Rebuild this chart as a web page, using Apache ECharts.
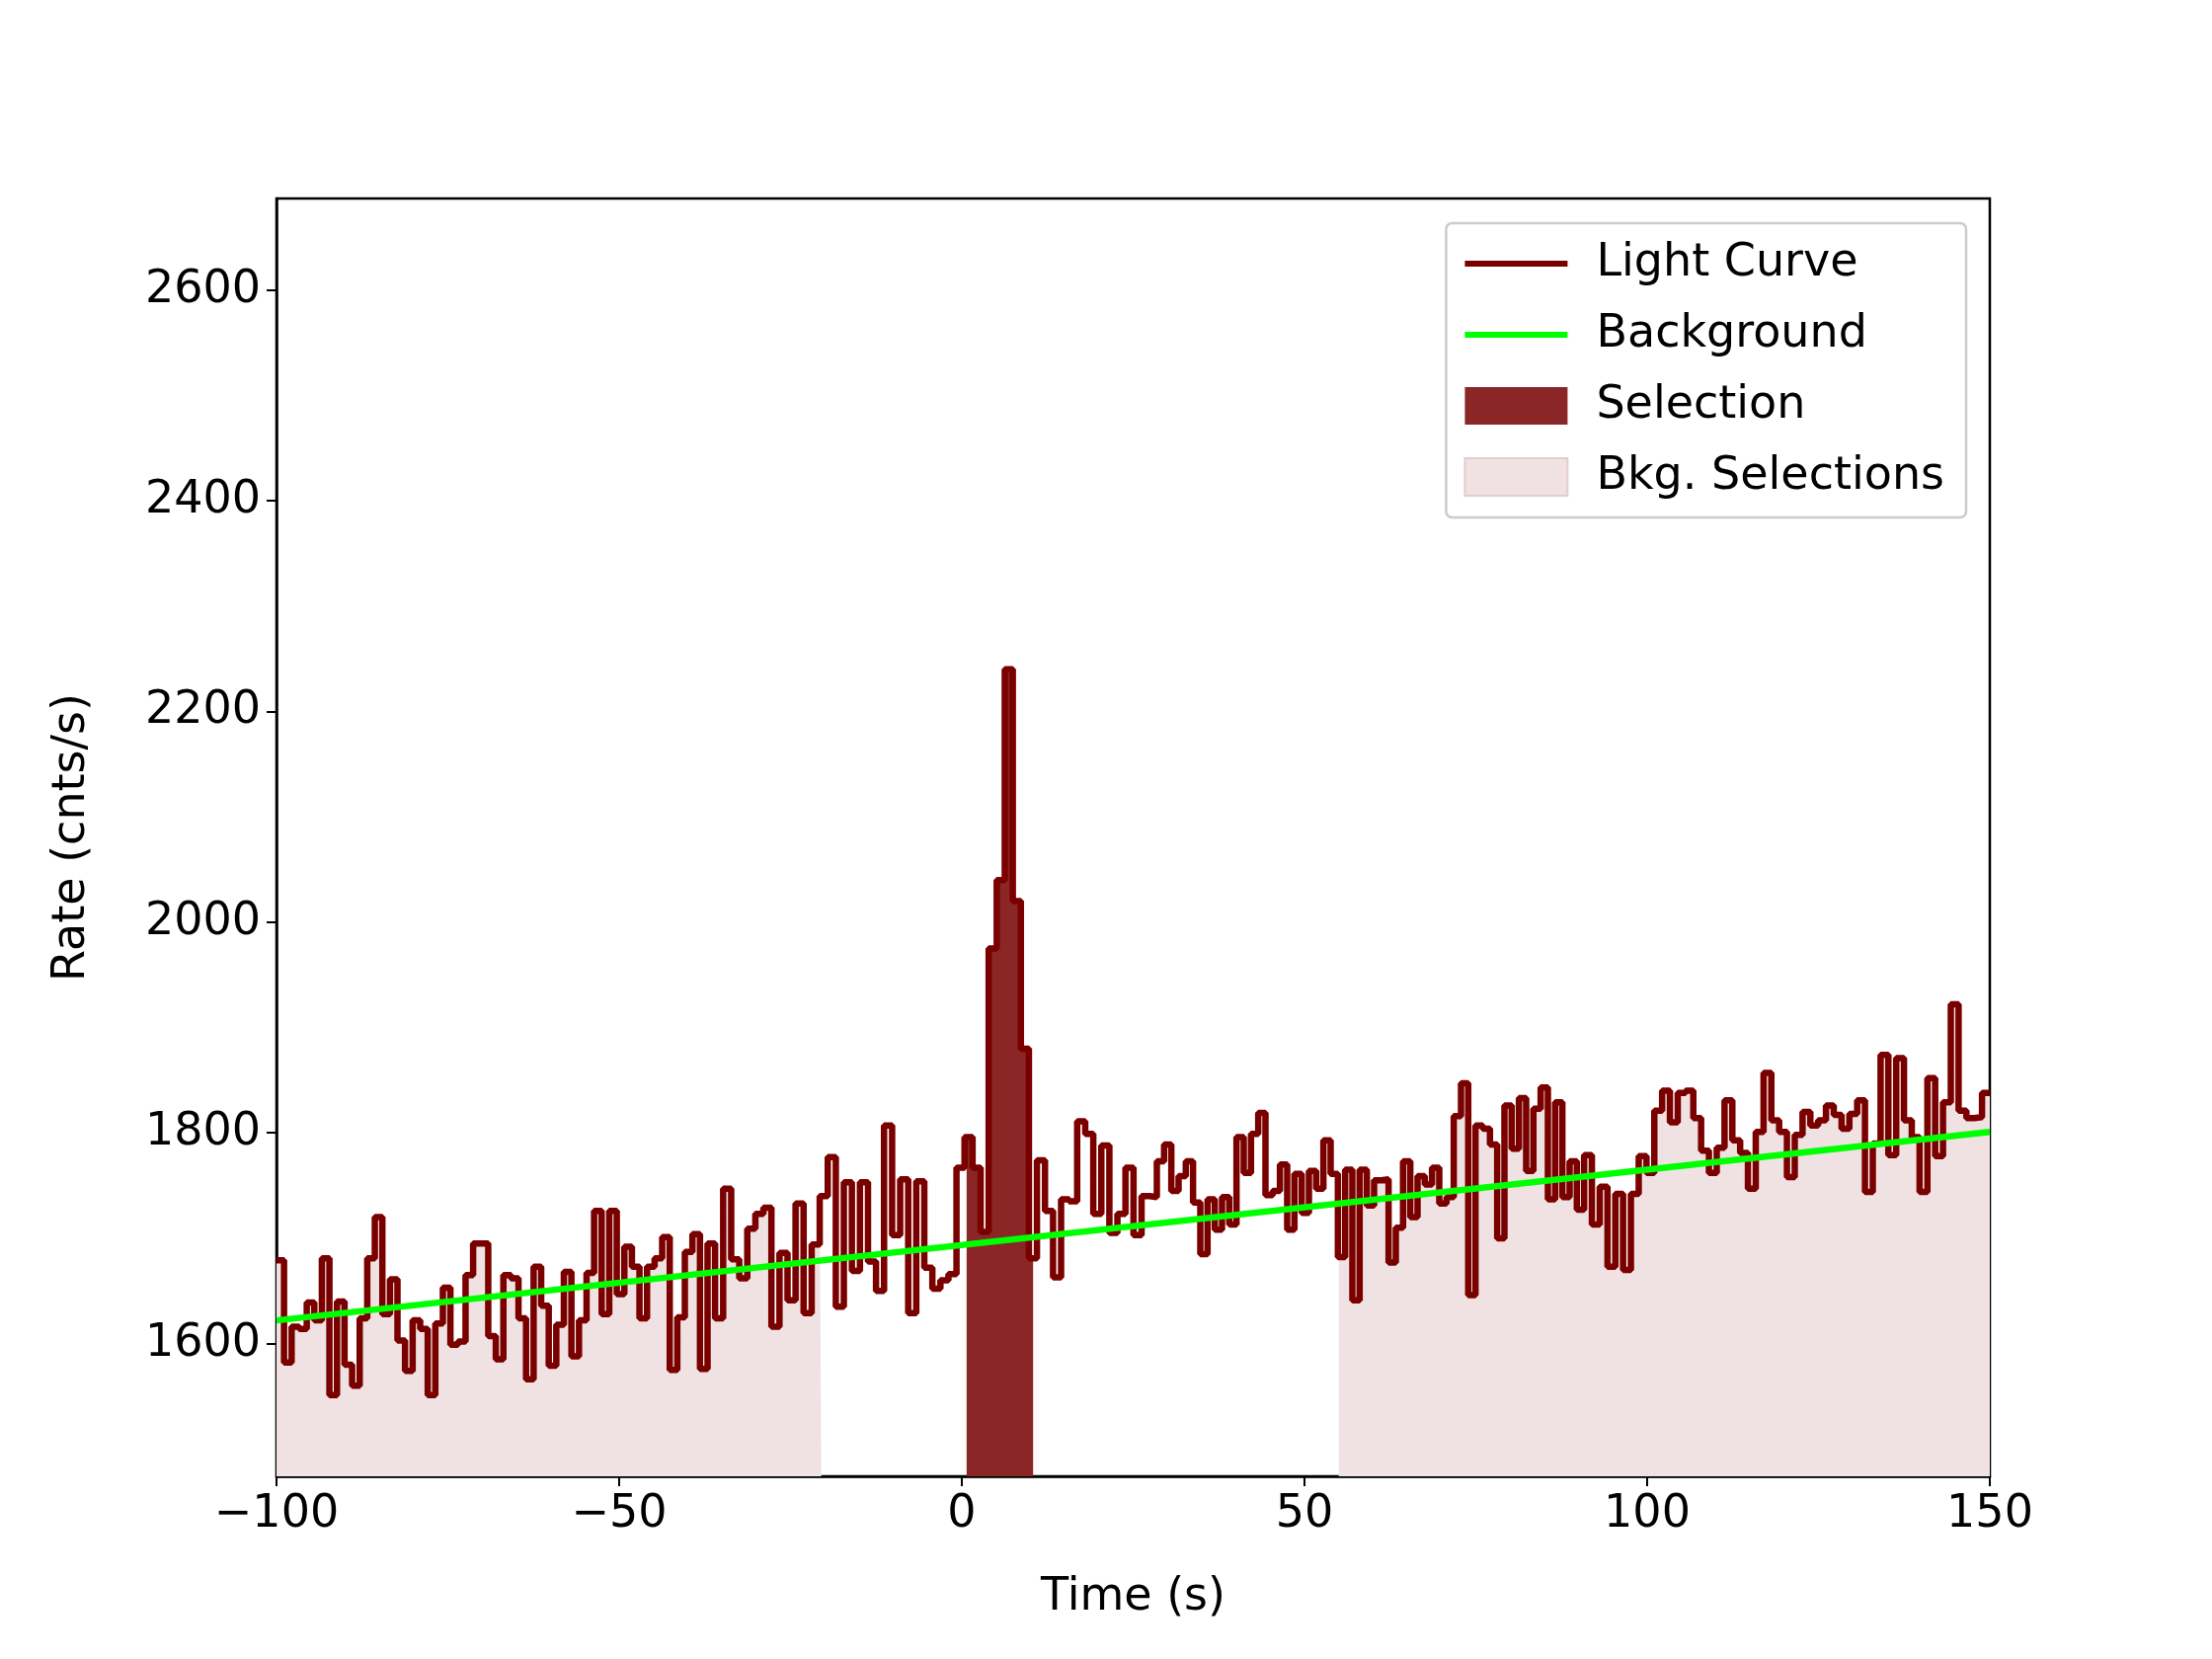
<!DOCTYPE html>
<html><head><meta charset="utf-8">
<script src="https://cdn.jsdelivr.net/npm/echarts@6/dist/echarts.min.js"></script>
<style>html,body{margin:0;padding:0;background:#fff}#c{width:2240px;height:1680px}</style>
</head><body><div id="c"></div>
<script>
// Light curve pieces: each piece spans [start, end] with evenly sized bins
const pieceStarts = [-100, -36, 27.4, 90.8];
const pieceEnds = [-36, 27.4, 90.8, 150];
const rates1 = [1679,1582,1616,1614,1639,1622,1681,1551,1640,1580,1560,1624,1681,1720,1628,1661,1603,1574,1622,1614,1551,1619,1653,1599,1602,1665,1695,1695,1607,1585,1665,1662,1624,1566,1673,1636,1579,1618,1668,1588,1622,1667,1726,1628,1726,1647,1692,1673,1624,1673,1681,1701,1575,1625,1687,1704,1576,1695];
const rates2 = [1624,1747,1680,1662,1709,1723,1729,1616,1686,1641,1733,1629,1694,1740,1777,1635,1753,1669,1753,1678,1650,1807,1703,1756,1629,1754,1672,1652,1660,1666,1767,1796,1767,1706,1975,2040,2240,2020,1880,1681,1774,1726,1663,1737,1735,1811,1799,1723,1788,1705,1723,1767,1703,1740];
const rates3 = [1739,1773,1789,1745,1759,1773,1734,1685,1737,1708,1739,1713,1796,1762,1799,1819,1741,1745,1770,1708,1761,1724,1764,1747,1793,1761,1682,1765,1641,1765,1731,1755,1756,1677,1710,1773,1720,1759,1751,1767,1733,1739,1816,1847,1646,1807,1804,1789,1700,1826,1785,1833,1764,1823,1843,1737,1829,1739,1773,1727];
const rates4 = [1779,1713,1749,1673,1742,1670,1742,1778,1762,1821,1840,1810,1838,1840,1814,1783,1762,1786,1831,1793,1781,1747,1801,1857,1812,1801,1758,1798,1820,1807,1812,1826,1817,1804,1818,1831,1744,1790,1874,1779,1871,1812,1796,1744,1852,1778,1829,1922,1821,1814,1815,1838];
const bkgTimes = [-100, 150];
const bkgRates = [1622, 1801];
const selection = [0.7, 10.4];
const bkgSelections = [[-100, -20.5], [55, 150]];
const xTicks = [-100, -50, 0, 50, 100, 150];
const yTicks = [1600, 1800, 2000, 2200, 2400, 2600];

const bins = [];
[rates1, rates2, rates3, rates4].forEach((arr, k) => {
  const w = (pieceEnds[k] - pieceStarts[k]) / arr.length;
  arr.forEach((v, i) => bins.push({a: pieceStarts[k] + i * w, b: pieceStarts[k] + (i + 1) * w, v}));
});
function stepPoints(lo, hi) {
  const pts = [];
  let last = null;
  bins.forEach(bn => {
    if (bn.b <= lo || bn.a >= hi) return;
    pts.push([Math.max(bn.a, lo), bn.v]);
    last = bn;
  });
  if (last) pts.push([Math.min(last.b, hi), last.v]);
  return pts;
}
const lcPts = stepPoints(-100, 150);
const fillSeries = (name, pts, color) => ({
  name, type: 'line', step: 'end', data: pts, symbol: 'none', silent: true,
  lineStyle: {width: 0, color}, itemStyle: {color},
  areaStyle: {color, opacity: 1, origin: 'start'}, z: 1
});
const series = [];
bkgSelections.forEach(r => series.push(fillSeries('Bkg. Selections', stepPoints(r[0], r[1]), '#f0e2e2')));
series.push(fillSeries('Selection', stepPoints(selection[0], selection[1]), '#8b2626'));
series.push({name: 'Light Curve', type: 'line', step: 'end', data: lcPts, symbol: 'none',
  lineStyle: {color: '#7a0000', width: 6.5}, itemStyle: {color: '#7a0000'}, z: 3});
series.push({name: 'Background', type: 'line', data: bkgTimes.map((t, i) => [t, bkgRates[i]]), symbol: 'none',
  lineStyle: {color: '#00ff00', width: 6.5}, itemStyle: {color: '#00ff00'}, z: 4});

const font = 'DejaVu Sans';
const fs = 46;
const lineIcon = 'path://M0,0H100V6H0Z';
const chart = echarts.init(document.getElementById('c'));
chart.setOption({
  animation: false,
  backgroundColor: '#fff',
  grid: {left: 280, right: 225, top: 201, bottom: 185, show: true, borderColor: '#000', borderWidth: 2.5, backgroundColor: 'transparent'},
  xAxis: {type: 'value', min: -100, max: 150, interval: 50,
    name: 'Time (s)', nameLocation: 'middle', nameGap: 100,
    nameTextStyle: {fontFamily: font, fontSize: fs, color: '#000'},
    axisLine: {show: true, onZero: false, lineStyle: {color: '#000', width: 2.5}},
    axisTick: {show: true, length: 10, lineStyle: {color: '#000', width: 2}},
    axisLabel: {fontFamily: font, fontSize: fs, color: '#000', margin: 16, formatter: v => String(v).replace('-', '\u2212')},
    splitLine: {show: false}},
  yAxis: {type: 'value', min: 1474, max: 2687,
    name: 'Rate (cnts/s)', nameLocation: 'middle', nameGap: 184,
    nameTextStyle: {fontFamily: font, fontSize: fs, color: '#000'},
    axisLine: {show: true, onZero: false, lineStyle: {color: '#000', width: 2.5}},
    axisTick: {show: true, length: 10, customValues: yTicks, lineStyle: {color: '#000', width: 2}},
    axisLabel: {fontFamily: font, fontSize: fs, color: '#000', margin: 16, customValues: yTicks, formatter: v => String(v)},
    splitLine: {show: false}},
  legend: {
    right: 249, top: 226, orient: 'vertical', itemGap: 26, itemWidth: 104, itemHeight: 38,
    padding: [18, 22, 18, 18], borderColor: '#ccc', borderWidth: 2.5, borderRadius: 6, backgroundColor: 'rgba(255,255,255,0.85)',
    symbolKeepAspect: true,
    textStyle: {fontFamily: font, fontSize: fs, color: '#000', padding: [0, 0, 0, 24]},
    data: [
      {name: 'Light Curve', icon: lineIcon, itemStyle: {color: '#7a0000'}},
      {name: 'Background', icon: lineIcon, itemStyle: {color: '#00ff00'}},
      {name: 'Selection', icon: 'rect', itemStyle: {color: '#8b2626'}},
      {name: 'Bkg. Selections', icon: 'rect', itemStyle: {color: '#f0e2e2', borderColor: '#e6cccc', borderWidth: 2}}
    ]
  },
  series
});
</script></body></html>
